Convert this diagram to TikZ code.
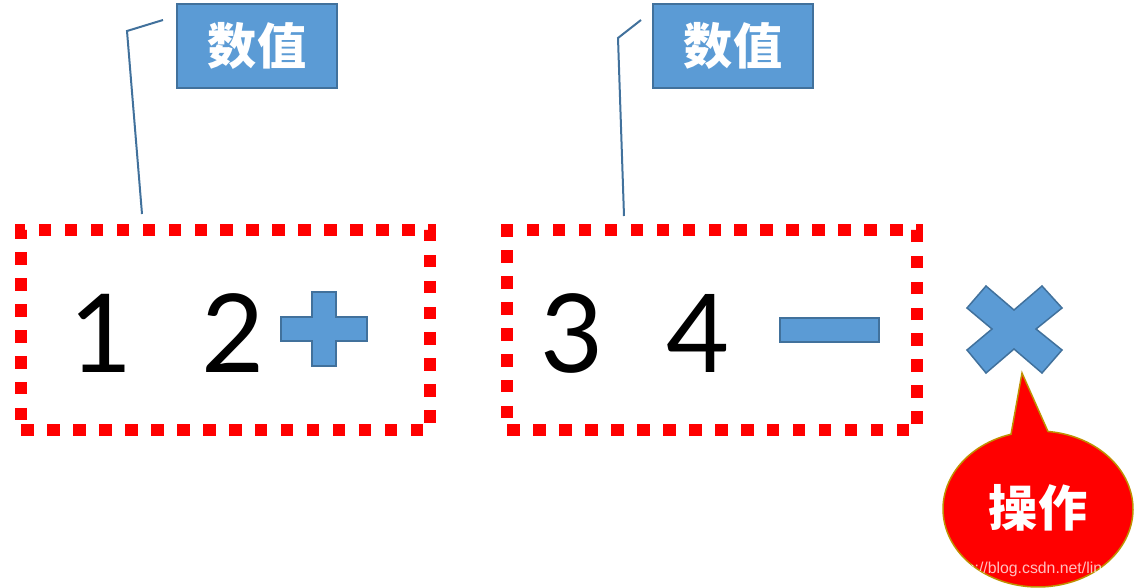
\documentclass[tikz,border=0pt]{standalone}
\usepackage{fontspec}
\usepackage{tikz}
\usetikzlibrary{calc}
\newfontfamily\cjk{Noto Sans CJK SC}
\newfontfamily\digitfont{Lato}
\newfontfamily\markfont{Liberation Sans}
\definecolor{tagblue}{RGB}{91, 155, 213}
\definecolor{edgeblue}{RGB}{65, 113, 156}
\definecolor{alertred}{RGB}{255, 0, 0}
\definecolor{gold}{RGB}{191, 144, 0}

\begin{document}
\begin{tikzpicture}[
    x=0.02cm, y=-0.02cm,
    tagbox/.style={rectangle, draw=edgeblue, fill=tagblue, line width=0.04cm, text=white, font=\cjk\bfseries\fontsize{28}{30}\selectfont, minimum width=3.2cm, minimum height=1.7cm, inner sep=0pt},
    groupbox/.style={rectangle, draw=alertred, line width=0.24cm, dash pattern=on 0.25cm off 0.27cm, minimum height=4cm, inner sep=0pt},
    digit/.style={font=\digitfont\fontsize{62}{64}\selectfont, inner sep=0pt},
    opshape/.style={draw=edgeblue, fill=tagblue, line width=0.03cm, line join=miter},
    callout/.style={draw=edgeblue, line width=0.04cm}
]
\useasboundingbox (0,0) rectangle (1136,588);

% groups of numbers
\node[groupbox, minimum width=8.18cm] (g1) at (225.5,330) {};
\node[groupbox, minimum width=8.2cm] (g2) at (712,330) {};

\node[digit] (n1) at (101,333) {1};
\node[digit] (n2) at (233,333) {2};
\node[digit] (n3) at (572,333) {3};
\node[digit] (n4) at (698,333) {4};

% operators
\draw[opshape] (312,292) -- (336,292) -- (336,317) -- (367,317) -- (367,341) -- (336,341)
    -- (336,366) -- (312,366) -- (312,341) -- (281,341) -- (281,317) -- (312,317) -- cycle;
\draw[opshape] (780,318) rectangle (879,342);
\draw[opshape] (967,308) -- (986,286) -- (1014,310) -- (1042,286) -- (1062,308) -- (1036,329)
    -- (1062,350) -- (1042,373) -- (1014,349) -- (986,373) -- (967,350) -- (992,329) -- cycle;

% value tags
\node[tagbox] (t1) at (257,46) {数值};
\node[tagbox] (t2) at (733,46) {数值};
\coordinate (c1a) at (163,20);
\coordinate (c1b) at (127,31);
\coordinate (c1c) at (142,214);
\coordinate (c2a) at (641,20);
\coordinate (c2b) at (618,38);
\coordinate (c2c) at (624,216);
\draw[callout] (c1a) -- (c1b) -- (c1c);
\draw[callout] (c2a) -- (c2b) -- (c2c);

% operation bubble
\coordinate (bc) at (1038,509);
\coordinate (tip) at (1022,373);
\draw[fill=alertred, draw=gold, line width=0.03cm] (tip) -- ($(bc)+(106.5:1.9cm and 1.56cm)$)
    arc[start angle=106.5, end angle=444, x radius=1.9cm, y radius=1.56cm] -- cycle;
\begin{scope}
  \clip (bc) ellipse [x radius=1.9cm, y radius=1.56cm];
  \node[anchor=base west, text=white, opacity=0.75, font=\markfont\fontsize{9}{11}\selectfont, inner sep=0pt] (wm) at (940,573) {https://blog.csdn.net/lin};
\end{scope}
\node[text=white, font=\cjk\bfseries\fontsize{28}{30}\selectfont] (op) at (1038,508) {操作};

\end{tikzpicture}
\end{document}
